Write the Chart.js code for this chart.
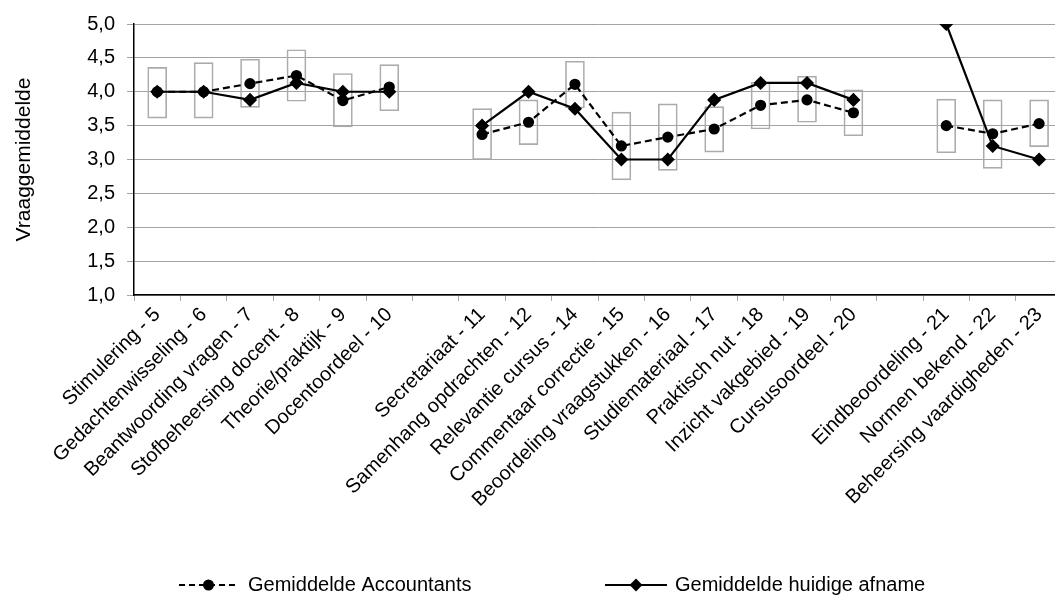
<!DOCTYPE html>
<html>
<head>
<meta charset="utf-8">
<script src="https://cdn.jsdelivr.net/npm/chart.js@4/dist/chart.umd.min.js"></script>
<style>
  html, body { margin: 0; padding: 0; background: #fff; overflow: hidden; }
  #wrap { width: 1070px; height: 595px; }
</style>
</head>
<body>
<div id="wrap"><canvas id="chart" width="1070" height="595"></canvas></div>
<script>
// categories (empty strings are the spacer slots between groups)
const labels = [
  'Stimulering - 5', 'Gedachtenwisseling - 6', 'Beantwoording vragen - 7', 'Stofbeheersing docent - 8',
  'Theorie/praktijk - 9', 'Docentoordeel - 10', '',
  'Secretariaat - 11', 'Samenhang opdrachten - 12', 'Relevantie cursus - 14', 'Commentaar correctie - 15',
  'Beoordeling vraagstukken - 16', 'Studiemateriaal - 17', 'Praktisch nut - 18', 'Inzicht vakgebied - 19',
  'Cursusoordeel - 20', '',
  'Eindbeoordeling - 21', 'Normen bekend - 22', 'Beheersing vaardigheden - 23'
];
const accountants = [4.0, 4.0, 4.12, 4.24, 3.87, 4.07, null, 3.37, 3.55, 4.11, 3.2, 3.33, 3.45, 3.8, 3.88, 3.69, null, 3.5, 3.38, 3.53];
const huidige = [4.0, 4.0, 3.88, 4.13, 4.0, 4.0, null, 3.5, 4.0, 3.75, 3.0, 3.0, 3.88, 4.13, 4.13, 3.88, null, 5.0, 3.2, 3.0];
const boxLow = [3.61, 3.61, 3.77, 3.86, 3.48, 3.72, null, 3.0, 3.22, 3.76, 2.7, 2.84, 3.11, 3.45, 3.55, 3.35, null, 3.1, 2.87, 3.19];
const boxHigh = [4.36, 4.43, 4.48, 4.62, 4.27, 4.40, null, 3.75, 3.88, 4.45, 3.70, 3.82, 3.78, 4.14, 4.23, 4.03, null, 3.89, 3.88, 3.88];
const yTicks = [1.0, 1.5, 2.0, 2.5, 3.0, 3.5, 4.0, 4.5, 5.0];

const FONT = "'Liberation Sans', Arial, sans-serif";
const boxes = boxLow.map((lo, i) => (lo == null ? null : [lo, boxHigh[i]]));

// legend drawn by hand: line sample with marker in the middle, then text
const legendPlugin = {
  id: 'bottomLegend',
  afterDraw(chart) {
    const ctx = chart.ctx;
    const y = 585;
    const items = [
      { x0: 179, x1: 238, dash: [6, 4], style: 'circle', r: 4.5, text: 'Gemiddelde Accountants', tx: 248 },
      { x0: 605, x1: 667, dash: [], style: 'rectRot', r: 5, text: 'Gemiddelde huidige afname', tx: 675 }
    ];
    ctx.save();
    items.forEach(it => {
      ctx.strokeStyle = '#000';
      ctx.lineWidth = 2;
      ctx.setLineDash(it.dash);
      ctx.beginPath();
      ctx.moveTo(it.x0, y);
      ctx.lineTo(it.x1, y);
      ctx.stroke();
      ctx.setLineDash([]);
      Chart.helpers.drawPoint(ctx, { pointStyle: it.style, radius: it.r, borderWidth: 1 }, (it.x0 + it.x1) / 2, y);
      ctx.fillStyle = '#000';
      ctx.fill();
      ctx.font = '20px ' + FONT;
      ctx.textBaseline = 'middle';
      ctx.textAlign = 'left';
      ctx.fillText(it.text, it.tx, y);
    });
    ctx.restore();
  }
};

new Chart(document.getElementById('chart'), {
  data: {
    labels,
    datasets: [
      {
        type: 'line', label: 'Gemiddelde huidige afname', data: huidige, order: 0,
        borderColor: '#000', borderWidth: 2.2, pointStyle: 'rectRot', pointRadius: 5.5,
        pointBackgroundColor: '#000', pointBorderColor: '#000', spanGaps: false, tension: 0
      },
      {
        type: 'line', label: 'Gemiddelde Accountants', data: accountants, order: 1,
        borderColor: '#000', borderWidth: 2.2, borderDash: [7, 4], pointStyle: 'circle', pointRadius: 4.5,
        pointBackgroundColor: '#000', pointBorderColor: '#000', spanGaps: false, tension: 0
      },
      {
        type: 'bar', label: 'bandbreedte', data: boxes, order: 2,
        backgroundColor: 'rgba(0,0,0,0)', borderColor: '#ababab', borderWidth: 1,
        borderSkipped: false, barThickness: 19
      }
    ]
  },
  options: {
    responsive: false,
    animation: false,
    layout: { padding: { left: 0, right: 5, top: 18, bottom: 0 } },
    plugins: { legend: { display: false }, tooltip: { enabled: false } },
    scales: {
      x: {
        offset: true,
        grid: { offset: true, drawOnChartArea: false, drawTicks: true, tickLength: 6, color: '#a9a9a9' },
        border: { color: '#000', width: 1.5 },
        ticks: {
          autoSkip: false, maxRotation: 45, minRotation: 45, padding: 2,
          color: '#000', font: { family: FONT, size: 20 }
        },
        afterFit(scale) { scale.height = 300; }
      },
      y: {
        min: 1, max: 5,
        afterBuildTicks(scale) { scale.ticks = yTicks.map(v => ({ value: v })); },
        grid: { color: '#a3a3a3', lineWidth: 1, tickLength: 7, drawTicks: true },
        border: { color: '#000', width: 1.5 },
        ticks: {
          padding: 12, color: '#000', font: { family: FONT, size: 20 },
          callback: v => v.toFixed(1).replace('.', ',')
        },
        title: {
          display: true, text: 'Vraaggemiddelde', color: '#000',
          font: { family: FONT, size: 21 }, padding: { top: 12, bottom: 0 }
        },
        afterFit(scale) { scale.width = 134; }
      }
    }
  },
  plugins: [legendPlugin]
});
</script>
</body>
</html>
